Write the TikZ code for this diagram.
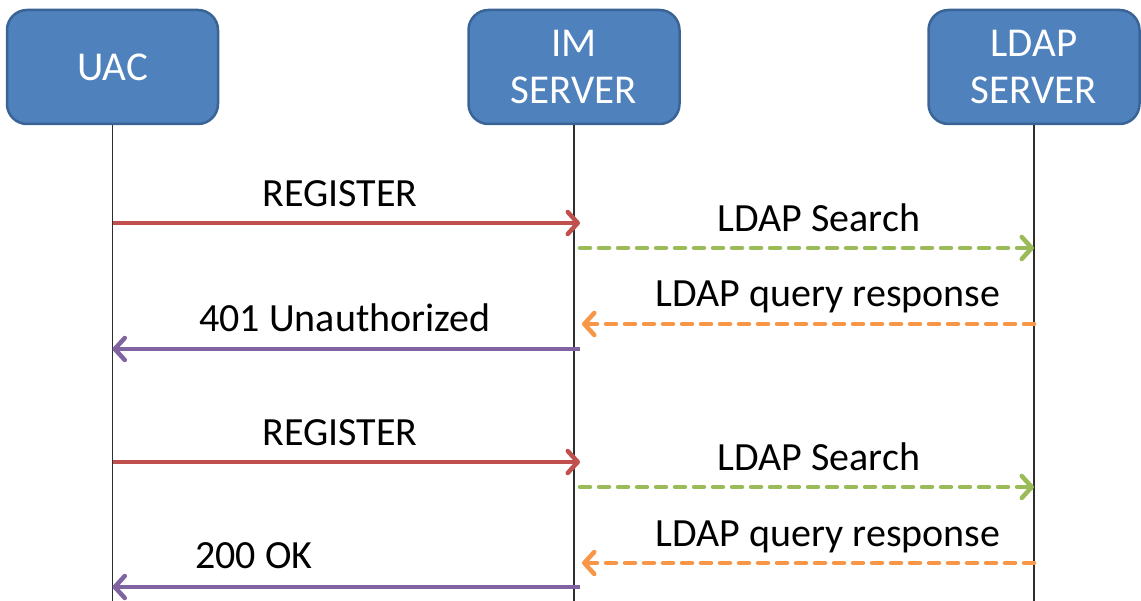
\documentclass[tikz,border=0pt]{standalone}
\usepackage{fontspec}
\setmainfont{Carlito}
\usetikzlibrary{arrows.meta,calc}

\definecolor{boxfill}{HTML}{4F81BD}
\definecolor{boxline}{HTML}{3A6496}
\definecolor{reqred}{HTML}{C0504D}
\definecolor{srchgreen}{HTML}{9BBB59}
\definecolor{respOrange}{HTML}{F79646}
\definecolor{replypurple}{HTML}{8064A2}
\definecolor{lifegray}{HTML}{2E2E2E}

\tikzset{
  actor/.style={draw=boxline, fill=boxfill, line width=2.5pt, rounded corners=20pt,
    minimum width=211pt, minimum height=114pt, text=white, align=center,
    font=\fontsize{41}{47}\selectfont},
  lifeline/.style={draw=lifegray, line width=1.8pt},
  msgtext/.style={anchor=base, inner sep=0pt, font=\fontsize{40}{46}\selectfont},
  tip/.style={-{Straight Barb[length=10pt,width=22pt,line cap=round,line join=round]}},
  solidmsg/.style={tip, line width=4.5pt},
  dashmsg/.style={tip, line width=4.5pt, line cap=round, dash pattern=on 10pt off 9pt},
}

\begin{document}
\begin{tikzpicture}[x=1pt,y=-1pt]
\useasboundingbox (0,0) rectangle (1141,601);

% participants
\node[actor] (uac)  at (112.5,67) {UAC};
\node[actor] (im)   at (574,67)   {IM\\SERVER};
\node[actor] (ldap) at (1034,67)  {LDAP\\SERVER};

% lifelines
\coordinate (uacEnd)  at (uac.south |- 0,601);
\coordinate (imEnd)   at (im.south |- 0,601);
\coordinate (ldapEnd) at (ldap.south |- 0,601);
\draw[lifeline] (uac.south) -- (uacEnd);
\draw[lifeline] (im.south) -- (imEnd);
\draw[lifeline] (ldap.south) -- (ldapEnd);

% first registration
\coordinate (reg1a) at (uac.south |- 0,223);
\coordinate (reg1b) at ($(im.south |- 0,223)+(6,0)$);
\draw[solidmsg, reqred] (reg1a) -- (reg1b);
\node[msgtext] (reg1t) at (340,207) {REGISTER};

\coordinate (srch1a) at ($(im.south |- 0,248)+(6,0)$);
\coordinate (srch1b) at (ldap.south |- 0,248);
\draw[dashmsg, srchgreen] (srch1a) -- (srch1b);
\node[msgtext] (srch1t) at (819,232) {LDAP Search};

\coordinate (resp1a) at (ldap.south |- 0,324);
\coordinate (resp1b) at ($(im.south |- 0,324)+(8,0)$);
\draw[dashmsg, respOrange] (resp1a) -- (resp1b);
\node[msgtext] (resp1t) at (828,307) {LDAP query response};

\coordinate (unauthA) at ($(im.south |- 0,349)+(6,0)$);
\coordinate (unauthB) at (uac.south |- 0,349);
\draw[solidmsg, replypurple] (unauthA) -- (unauthB);
\node[msgtext] (unautht) at (345,332) {401 Unauthorized};

% second registration
\coordinate (reg2a) at (uac.south |- 0,462);
\coordinate (reg2b) at ($(im.south |- 0,462)+(6,0)$);
\draw[solidmsg, reqred] (reg2a) -- (reg2b);
\node[msgtext] (reg2t) at (340,446) {REGISTER};

\coordinate (srch2a) at ($(im.south |- 0,487)+(6,0)$);
\coordinate (srch2b) at (ldap.south |- 0,487);
\draw[dashmsg, srchgreen] (srch2a) -- (srch2b);
\node[msgtext] (srch2t) at (819,471) {LDAP Search};

\coordinate (resp2a) at (ldap.south |- 0,563);
\coordinate (resp2b) at ($(im.south |- 0,563)+(8,0)$);
\draw[dashmsg, respOrange] (resp2a) -- (resp2b);
\node[msgtext] (resp2t) at (828,546) {LDAP query response};

\coordinate (okA) at ($(im.south |- 0,587)+(6,0)$);
\coordinate (okB) at (uac.south |- 0,587);
\draw[solidmsg, replypurple] (okA) -- (okB);
\node[msgtext] (okt) at (254,568) {200 OK};
\end{tikzpicture}
\end{document}
